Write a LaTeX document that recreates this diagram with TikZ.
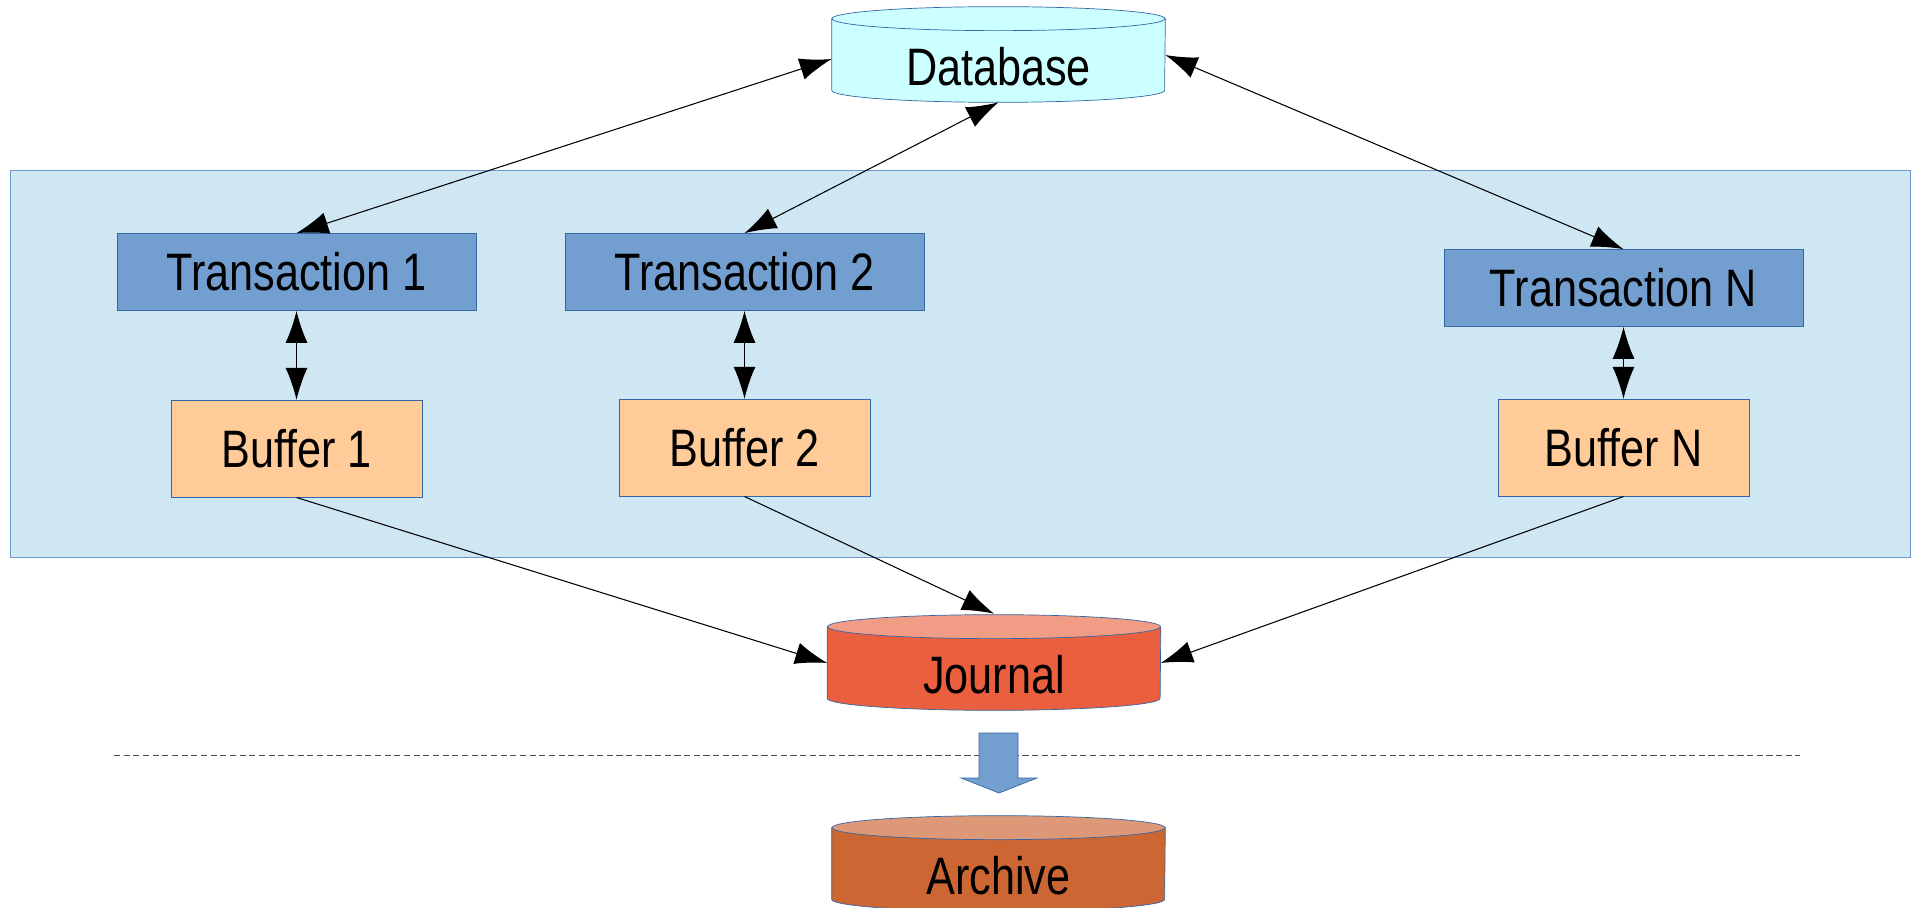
\documentclass[tikz,border=0pt]{standalone}
\usepackage{fontspec}
\setmainfont{Liberation Sans}[FakeStretch=0.82]
\usepackage{xcolor}
\usepackage{tikz}
\usetikzlibrary{arrows.meta, positioning, backgrounds}

\definecolor{panelblue}{HTML}{CFE6F3}
\definecolor{panelline}{HTML}{6D97CD}
\definecolor{edgeblue}{HTML}{3465A4}
\definecolor{transblue}{HTML}{729FCF}
\definecolor{bufferorange}{HTML}{FFCC99}
\definecolor{dbcyan}{HTML}{CCFFFF}
\definecolor{journalred}{HTML}{EA603E}
\definecolor{journaltop}{HTML}{F19C85}
\definecolor{archivebrown}{HTML}{CC6633}
\definecolor{archivetop}{HTML}{DD9977}

% cylinder drawn behind a store node: #1 node, #2 body, #3 lid
\newcommand{\drum}[3]{%
  \path[draw=edgeblue, fill=#2] ([yshift=0.24cm]#1.north west) -- ([yshift=0.24cm]#1.south west)
    arc[start angle=180, end angle=360, x radius=3.33cm, y radius=0.24cm] -- ([yshift=0.24cm]#1.north east) -- cycle;
  \path[draw=edgeblue, fill=#3] ([yshift=0.24cm]#1.north) ellipse [x radius=3.33cm, y radius=0.24cm];
}

\begin{document}
\begin{tikzpicture}[
      x=0.02cm, y=-0.02cm,
      >={Latex[length=0.64cm, width=0.44cm]},
      every node/.style={font=\fontsize{30}{36}\selectfont, align=center, inner sep=0pt},
      trans/.style={draw=edgeblue, fill=transblue, minimum width=7.18cm, minimum height=1.54cm},
      buffer/.style={draw=edgeblue, fill=bufferorange, minimum width=5.02cm, minimum height=1.94cm},
      store/.style={minimum width=6.66cm, minimum height=1.42cm},
      arrow/.style={line width=0.6pt}
    ]
    \useasboundingbox (0,0) rectangle (1914,908);

    \node (t1) [trans] at (296.5,272) {Transaction 1};
    \node (t2) [trans] at (744.5,272) {Transaction 2};
    \node (tn) [trans] at (1623.5,288) {Transaction N};

    \node (b1) [buffer, below=1.78cm of t1] {Buffer 1};
    \node (b2) [buffer, below=1.76cm of t2] {Buffer 2};
    \node (bn) [buffer, below=1.44cm of tn] {Buffer N};

    \node (db) [store] at (998.5,66.5) {Database};
    \node (journal) [store] at (994,674.5) {Journal};
    \node (archive) [store] at (998.5,875.5) {Archive};

    \begin{pgfonlayer}{background}
      \path[draw=panelline, fill=panelblue] (10,170) rectangle (1910,557);
      \drum{db}{dbcyan}{dbcyan}
      \drum{journal}{journalred}{journaltop}
      \drum{archive}{archivebrown}{archivetop}
    \end{pgfonlayer}

    \draw[arrow, <->] ([yshift=0.15cm]db.west) -- (t1.north);
    \draw[arrow, <->] (db.south) -- (t2.north);
    \draw[arrow, <->] ([yshift=0.23cm]db.east) -- (tn.north);

    \draw[arrow, <->] (t1) -- (b1);
    \draw[arrow, <->] (t2) -- (b2);
    \draw[arrow, <->] (tn) -- (bn);

    \draw[arrow, ->] (b1.south) -- ([yshift=0.23cm]journal.west);
    \draw[arrow, ->] (b2.south) -- ([yshift=0.5cm]journal.north);
    \draw[arrow, ->] (bn.south) -- ([yshift=0.23cm]journal.east);

    \draw[gray!60!black, line width=0.5pt, dash pattern=on 3.5pt off 2pt] (114,755) -- (1800,755);
    \path[draw=edgeblue, fill=transblue] (979,733) -- (1018,733) -- (1018,778) -- (1037,778)
      -- (999,793) -- (961,778) -- (979,778) -- cycle;

    \end{tikzpicture}
\end{document}
